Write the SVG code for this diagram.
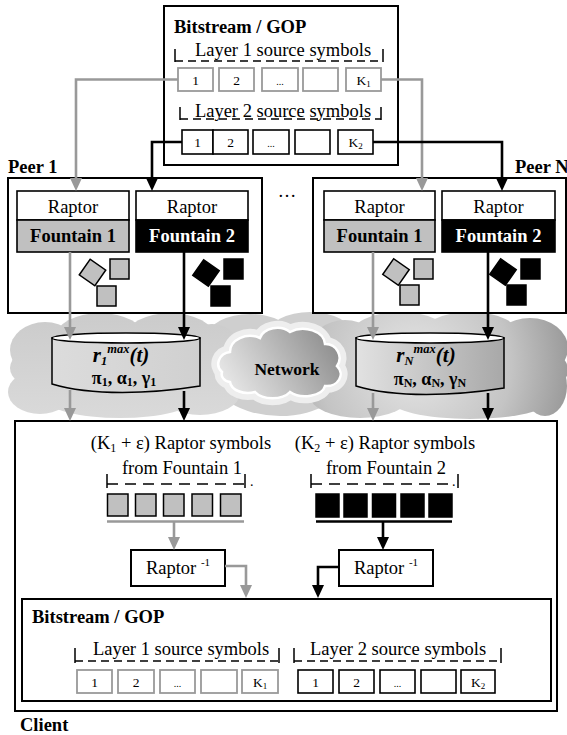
<svg xmlns="http://www.w3.org/2000/svg" width="567" height="735" viewBox="0 0 567 735">
  <style>
    text { font-family: "Liberation Serif", "Times New Roman", serif; fill: #000; }
    .lbl { font-size: 18.5px; }
    .bold { font-weight: bold; }
    .sym { font-size: 13.5px; }
    .frame { fill: #fff; stroke: #000; stroke-width: 2; }
    .box1 { fill: #fff; stroke: #999; stroke-width: 1.8; }
    .box2 { fill: #fff; stroke: #000; stroke-width: 1.6; }
    .tick { stroke: #000; stroke-width: 1.5; fill: none; }
    .dash { stroke: #000; stroke-width: 1.5; fill: none; stroke-dasharray: 8 5; }
    .dashw { stroke: #000; stroke-width: 1.5; fill: none; stroke-dasharray: 11 7; }
    .sq1 { fill: #c0c0c0; stroke: #000; stroke-width: 1.5; }
    .sq2 { fill: #000; stroke: #000; stroke-width: 1.5; }
    .cg { stroke: #999; stroke-width: 2.6; fill: none; }
    .ck { stroke: #000; stroke-width: 2.6; fill: none; }
    .cyl-top { fill: #fff; stroke: #000; stroke-width: 1.5; }
    .cyl-t { font-size: 21px; font-weight: bold; font-style: italic; }
    .cyl-p { font-size: 18px; font-weight: bold; }
  </style>
  <defs>
    <marker id="ahG" markerUnits="userSpaceOnUse" markerWidth="14" markerHeight="14" viewBox="0 0 14 12" refX="6" refY="6" orient="auto">
      <path d="M0,0 L13,6 L0,12 Z" fill="#999"/>
    </marker>
    <marker id="ahK" markerUnits="userSpaceOnUse" markerWidth="14" markerHeight="14" viewBox="0 0 14 12" refX="6" refY="6" orient="auto">
      <path d="M0,0 L13,6 L0,12 Z" fill="#000"/>
    </marker>
    <linearGradient id="cloudL" gradientUnits="userSpaceOnUse" x1="0" y1="312" x2="0" y2="420">
      <stop offset="0" stop-color="#cbcbcb"/>
      <stop offset="1" stop-color="#dadada"/>
    </linearGradient>
    <radialGradient id="cloudR" gradientUnits="userSpaceOnUse" cx="415" cy="365" r="175">
      <stop offset="0" stop-color="#e6e6e6"/>
      <stop offset="0.55" stop-color="#c4c4c4"/>
      <stop offset="1" stop-color="#8c8c8c"/>
    </radialGradient>
    <linearGradient id="cloudNet" gradientUnits="userSpaceOnUse" x1="335" y1="332" x2="235" y2="395">
      <stop offset="0" stop-color="#8a8a8a"/>
      <stop offset="0.6" stop-color="#c2c2c2"/>
      <stop offset="1" stop-color="#e6e6e6"/>
    </linearGradient>
    <linearGradient id="cylA" x1="0" y1="0" x2="1" y2="0">
      <stop offset="0" stop-color="#dcdcdc"/>
      <stop offset="1" stop-color="#d0d0d0"/>
    </linearGradient>
    <linearGradient id="cylB" x1="0" y1="0" x2="1" y2="0">
      <stop offset="0" stop-color="#e2e2e2"/>
      <stop offset="1" stop-color="#a8a8a8"/>
    </linearGradient>
  </defs>

  <!-- network clouds -->
  <g id="clouds">
    <g fill="#cfcfcf">
      <ellipse cx="250" cy="336" rx="42" ry="22"/>
      <ellipse cx="310" cy="334" rx="42" ry="22"/>
      <ellipse cx="280" cy="372" rx="70" ry="44"/>
    </g>
    <g fill="url(#cloudL)">
      <ellipse cx="45" cy="350" rx="35" ry="28"/>
      <ellipse cx="100" cy="338" rx="45" ry="25"/>
      <ellipse cx="170" cy="338" rx="45" ry="25"/>
      <ellipse cx="212" cy="352" rx="30" ry="28"/>
      <ellipse cx="125" cy="368" rx="115" ry="38"/>
      <ellipse cx="40" cy="392" rx="32" ry="22"/>
      <ellipse cx="120" cy="398" rx="75" ry="20"/>
      <ellipse cx="200" cy="393" rx="40" ry="22"/>
    </g>
    <g fill="url(#cloudR)">
      <ellipse cx="345" cy="348" rx="35" ry="28"/>
      <ellipse cx="400" cy="336" rx="50" ry="24"/>
      <ellipse cx="470" cy="336" rx="50" ry="24"/>
      <ellipse cx="530" cy="348" rx="38" ry="30"/>
      <ellipse cx="450" cy="370" rx="118" ry="42"/>
      <ellipse cx="545" cy="386" rx="22" ry="30"/>
      <ellipse cx="360" cy="396" rx="50" ry="22"/>
      <ellipse cx="470" cy="400" rx="80" ry="19"/>
    </g>
    <path id="netHalo" d="M222,372 a14,12 0 0 1 8,-20 a20,16 0 0 1 30,-14 a18,14 0 0 1 30,-6 a22,16 0 0 1 35,12 a14,14 0 0 1 12,22 a14,12 0 0 1 -12,20 a20,12 0 0 1 -35,6 a20,12 0 0 1 -35,0 a18,12 0 0 1 -25,-10 a10,8 0 0 1 -8,-10 Z" fill="#eeeeee" stroke="#eeeeee" stroke-width="14" stroke-linejoin="round"/>
    <path d="M222,372 a14,12 0 0 1 8,-20 a20,16 0 0 1 30,-14 a18,14 0 0 1 30,-6 a22,16 0 0 1 35,12 a14,14 0 0 1 12,22 a14,12 0 0 1 -12,20 a20,12 0 0 1 -35,6 a20,12 0 0 1 -35,0 a18,12 0 0 1 -25,-10 a10,8 0 0 1 -8,-10 Z" fill="url(#cloudNet)" stroke="#fff" stroke-width="2.5"/>
    <text x="287" y="375" text-anchor="middle" class="bold" font-size="17.5">Network</text>
  </g>

  <!-- source bitstream -->
  <g id="source">
    <rect class="frame" x="164" y="6" width="234" height="159"/>
    <text x="174" y="33" class="lbl bold">Bitstream / GOP</text>
    <text x="283" y="56" text-anchor="middle" class="lbl">Layer 1 source symbols</text>
    <path class="tick" d="M175,49 V62 M383,49 V62"/>
    <path class="dash" d="M175,61 H383"/>
    <rect class="box1" x="178" y="68" width="35" height="23"/>
    <rect class="box1" x="219" y="68" width="35" height="23"/>
    <rect class="box1" x="262" y="68" width="36" height="23"/>
    <rect class="box1" x="303" y="68" width="35" height="23"/>
    <rect class="box1" x="346" y="68" width="35" height="23"/>
    <text x="195.5" y="85" text-anchor="middle" class="sym">1</text>
    <text x="236.5" y="85" text-anchor="middle" class="sym">2</text>
    <text x="280" y="85" text-anchor="middle" font-size="10">...</text>
    <text x="363.5" y="85" text-anchor="middle" class="sym">K<tspan font-size="9" dy="2">1</tspan></text>
    <text x="283" y="117" text-anchor="middle" class="lbl">Layer 2 source symbols</text>
    <path class="tick" d="M180,107 V120 M381,107 V120"/>
    <path class="dash" d="M180,119 H381"/>
    <rect class="box2" x="182" y="130" width="31" height="24"/>
    <rect class="box2" x="213" y="130" width="35" height="24"/>
    <rect class="box2" x="253" y="130" width="36" height="24"/>
    <rect class="box2" x="295" y="130" width="35" height="24"/>
    <rect class="box2" x="338" y="130" width="35" height="24"/>
    <text x="197.5" y="147" text-anchor="middle" class="sym">1</text>
    <text x="230.5" y="147" text-anchor="middle" class="sym">2</text>
    <text x="271" y="147" text-anchor="middle" font-size="10">...</text>
    <text x="355.5" y="147" text-anchor="middle" class="sym">K<tspan font-size="9" dy="2">2</tspan></text>
  </g>

  <!-- peer 1 -->
  <g id="peer1">
    <text x="8" y="173" class="lbl bold">Peer 1</text>
    <rect class="frame" x="8" y="178" width="254" height="135"/>
    <rect x="17" y="191" width="112" height="29" fill="#fff" stroke="#000" stroke-width="1.6"/>
    <rect x="17" y="220" width="112" height="32" fill="#c0c0c0" stroke="#000" stroke-width="1.6"/>
    <text x="73" y="213" text-anchor="middle" class="lbl">Raptor</text>
    <text x="73" y="242" text-anchor="middle" class="lbl bold">Fountain 1</text>
    <rect x="136" y="191" width="112" height="29" fill="#fff" stroke="#000" stroke-width="1.6"/>
    <rect x="136" y="220" width="112" height="32" fill="#000" stroke="#000" stroke-width="1.6"/>
    <text x="192" y="213" text-anchor="middle" class="lbl">Raptor</text>
    <text x="192" y="242" text-anchor="middle" class="lbl bold" style="fill:#fff">Fountain 2</text>
    <rect class="sq1" x="-9.5" y="-9.5" width="19" height="19" transform="translate(92.5,272.5) rotate(35)"/>
    <rect class="sq1" x="110" y="259" width="19" height="20"/>
    <rect class="sq1" x="97" y="286" width="19" height="20"/>
    <rect class="sq2" x="-9.5" y="-9.5" width="19" height="19" transform="translate(206,273) rotate(35)"/>
    <rect class="sq2" x="224" y="259" width="19" height="20"/>
    <rect class="sq2" x="211" y="286" width="19" height="20"/>
  </g>

  <text x="287" y="197" text-anchor="middle" class="lbl">…</text>

  <!-- peer N -->
  <g id="peerN">
    <text x="515" y="173" class="lbl bold">Peer N</text>
    <rect class="frame" x="313" y="178" width="253" height="135"/>
    <rect x="324" y="191" width="111" height="29" fill="#fff" stroke="#000" stroke-width="1.6"/>
    <rect x="324" y="220" width="111" height="32" fill="#c0c0c0" stroke="#000" stroke-width="1.6"/>
    <text x="379.5" y="213" text-anchor="middle" class="lbl">Raptor</text>
    <text x="379.5" y="242" text-anchor="middle" class="lbl bold">Fountain 1</text>
    <rect x="442" y="191" width="113" height="29" fill="#fff" stroke="#000" stroke-width="1.6"/>
    <rect x="442" y="220" width="113" height="32" fill="#000" stroke="#000" stroke-width="1.6"/>
    <text x="498.5" y="213" text-anchor="middle" class="lbl">Raptor</text>
    <text x="498.5" y="242" text-anchor="middle" class="lbl bold" style="fill:#fff">Fountain 2</text>
    <rect class="sq1" x="-9.5" y="-9.5" width="19" height="19" transform="translate(396,272) rotate(35)"/>
    <rect class="sq1" x="414" y="259" width="19" height="20"/>
    <rect class="sq1" x="400" y="285" width="19" height="20"/>
    <rect class="sq2" x="-9.5" y="-9.5" width="19" height="19" transform="translate(503,272) rotate(35)"/>
    <rect class="sq2" x="521" y="259" width="19" height="20"/>
    <rect class="sq2" x="507" y="285" width="19" height="20"/>
  </g>

  <!-- per-peer channel queues -->
  <g id="channel1">
    <path d="M52,338 V384 C92,396 150,394 200,386 V338 Z" fill="url(#cylA)" stroke="#000" stroke-width="1.5"/>
    <ellipse class="cyl-top" cx="126" cy="338" rx="74" ry="5"/>
    <text x="121" y="362" text-anchor="middle" class="cyl-t">r<tspan font-size="12.5" dy="3">1</tspan><tspan font-size="12.5" dy="-12">max</tspan><tspan dy="9">(t)</tspan></text>
    <text x="124" y="384" text-anchor="middle" class="cyl-p">π<tspan font-size="12" dy="2">1</tspan><tspan dy="-2">, α</tspan><tspan font-size="12" dy="2">1</tspan><tspan dy="-2">, γ</tspan><tspan font-size="12" dy="2">1</tspan></text>
  </g>
  <g id="channelN">
    <path d="M356,338 V386 C396,398 454,396 504,388 V338 Z" fill="url(#cylB)" stroke="#000" stroke-width="1.5"/>
    <ellipse class="cyl-top" cx="430" cy="338" rx="74" ry="5"/>
    <text x="426" y="362" text-anchor="middle" class="cyl-t">r<tspan font-size="12.5" dy="3">N</tspan><tspan font-size="12.5" dy="-12">max</tspan><tspan dy="9">(t)</tspan></text>
    <text x="430" y="385" text-anchor="middle" class="cyl-p">π<tspan font-size="12" dy="2">N</tspan><tspan dy="-2">, α</tspan><tspan font-size="12" dy="2">N</tspan><tspan dy="-2">, γ</tspan><tspan font-size="12" dy="2">N</tspan></text>
  </g>

  <!-- client -->
  <g id="client">
    <rect class="frame" x="15" y="421" width="542" height="290"/>
    <text x="20" y="731" class="lbl bold">Client</text>
    <text x="181" y="449" text-anchor="middle" class="lbl">(K<tspan font-size="12" dy="3">1</tspan><tspan dy="-3"> + ε) Raptor symbols</tspan></text>
    <text x="182" y="474" text-anchor="middle" class="lbl">from Fountain 1</text>
    <path class="tick" d="M107,474 V488 M245,474 V488"/>
    <path class="dashw" d="M107,484 H245"/>
    <text x="250" y="486" font-size="14">.</text>
    <text x="385" y="449" text-anchor="middle" class="lbl">(K<tspan font-size="12" dy="3">2</tspan><tspan dy="-3"> + ε) Raptor symbols</tspan></text>
    <text x="386" y="474" text-anchor="middle" class="lbl">from Fountain 2</text>
    <path class="tick" d="M311,474 V488 M458,474 V488"/>
    <path class="dashw" d="M311,484 H451"/>
    <text x="452" y="486" font-size="14">.</text>
    <rect class="sq1" x="107.5" y="494" width="20.5" height="22"/>
    <rect class="sq1" x="135.5" y="494" width="20.5" height="22"/>
    <rect class="sq1" x="163.5" y="494" width="20.5" height="22"/>
    <rect class="sq1" x="192" y="494" width="20.5" height="22"/>
    <rect class="sq1" x="220.5" y="494" width="20.5" height="22"/>
    <rect class="sq2" x="316" y="494" width="23" height="23"/>
    <rect class="sq2" x="344" y="494" width="23" height="23"/>
    <rect class="sq2" x="372.5" y="494" width="23" height="23"/>
    <rect class="sq2" x="401" y="494" width="23" height="23"/>
    <rect class="sq2" x="429" y="494" width="23" height="23"/>
  </g>
  <g id="decoder1">
    <rect class="frame" x="131" y="550" width="94" height="36" stroke-width="1.6"/>
    <text x="178" y="574" text-anchor="middle" class="lbl">Raptor <tspan font-size="11" dy="-8">-1</tspan></text>
  </g>
  <g id="decoder2">
    <rect class="frame" x="339" y="550" width="94" height="36" stroke-width="1.6"/>
    <text x="386" y="574" text-anchor="middle" class="lbl">Raptor <tspan font-size="11" dy="-8">-1</tspan></text>
  </g>
  <g id="output">
    <rect class="frame" x="22" y="599" width="529" height="102"/>
    <text x="32" y="623" class="lbl bold">Bitstream / GOP</text>
    <text x="181" y="655" text-anchor="middle" class="lbl">Layer 1 source symbols</text>
    <path class="tick" d="M75,648 V663 M279,648 V663"/>
    <path class="dash" d="M75,661 H279"/>
    <text x="398" y="655" text-anchor="middle" class="lbl">Layer 2 source symbols</text>
    <path class="tick" d="M294,648 V663 M501,648 V663"/>
    <path class="dash" d="M294,661 H501"/>
    <rect class="box1" x="77" y="670" width="35" height="23"/>
    <rect class="box1" x="118" y="670" width="36" height="23"/>
    <rect class="box1" x="160" y="670" width="35" height="23"/>
    <rect class="box1" x="201" y="670" width="36" height="23"/>
    <rect class="box1" x="242" y="670" width="36" height="23"/>
    <text x="94.5" y="687" text-anchor="middle" class="sym">1</text>
    <text x="136" y="687" text-anchor="middle" class="sym">2</text>
    <text x="177.5" y="687" text-anchor="middle" font-size="10">...</text>
    <text x="260" y="687" text-anchor="middle" class="sym">K<tspan font-size="9" dy="2">1</tspan></text>
    <rect class="box2" x="298" y="670" width="35" height="23"/>
    <rect class="box2" x="339" y="670" width="35" height="23"/>
    <rect class="box2" x="380" y="670" width="35" height="23"/>
    <rect class="box2" x="421" y="670" width="35" height="23"/>
    <rect class="box2" x="461" y="670" width="34" height="23"/>
    <text x="315.5" y="687" text-anchor="middle" class="sym">1</text>
    <text x="356.5" y="687" text-anchor="middle" class="sym">2</text>
    <text x="397.5" y="687" text-anchor="middle" font-size="10">...</text>
    <text x="478" y="687" text-anchor="middle" class="sym">K<tspan font-size="9" dy="2">2</tspan></text>
  </g>

  <!-- connectors -->
  <g id="connectors">
    <path class="cg" d="M178,79.5 H76 V184" marker-end="url(#ahG)"/>
    <path class="cg" d="M381,79.5 H422 V184" marker-end="url(#ahG)"/>
    <path class="ck" d="M182,142 H152 V184" marker-end="url(#ahK)"/>
    <path class="ck" d="M373,142 H502 V184" marker-end="url(#ahK)"/>
    <path class="cg" d="M70,252 V333" marker-end="url(#ahG)"/>
    <path class="ck" d="M184,252 V333" marker-end="url(#ahK)"/>
    <path class="cg" d="M373,252 V333" marker-end="url(#ahG)"/>
    <path class="ck" d="M488,252 V333" marker-end="url(#ahK)"/>
    <path class="cg" d="M70,390 V414" marker-end="url(#ahG)"/>
    <path class="ck" d="M184,391 V414" marker-end="url(#ahK)"/>
    <path class="cg" d="M373,393 V414" marker-end="url(#ahG)"/>
    <path class="ck" d="M488,393 V414" marker-end="url(#ahK)"/>
    <path class="cg" d="M107,521.5 H244" stroke-width="3"/>
    <path class="ck" d="M316,521.5 H452" stroke-width="3"/>
    <path class="cg" d="M174,522 V543" marker-end="url(#ahG)"/>
    <path class="ck" d="M383,522 V543" marker-end="url(#ahK)"/>
    <path class="cg" d="M225,566 H246 V591" marker-end="url(#ahG)"/>
    <path class="ck" d="M339,567 H318 V591" marker-end="url(#ahK)"/>
  </g>
</svg>
